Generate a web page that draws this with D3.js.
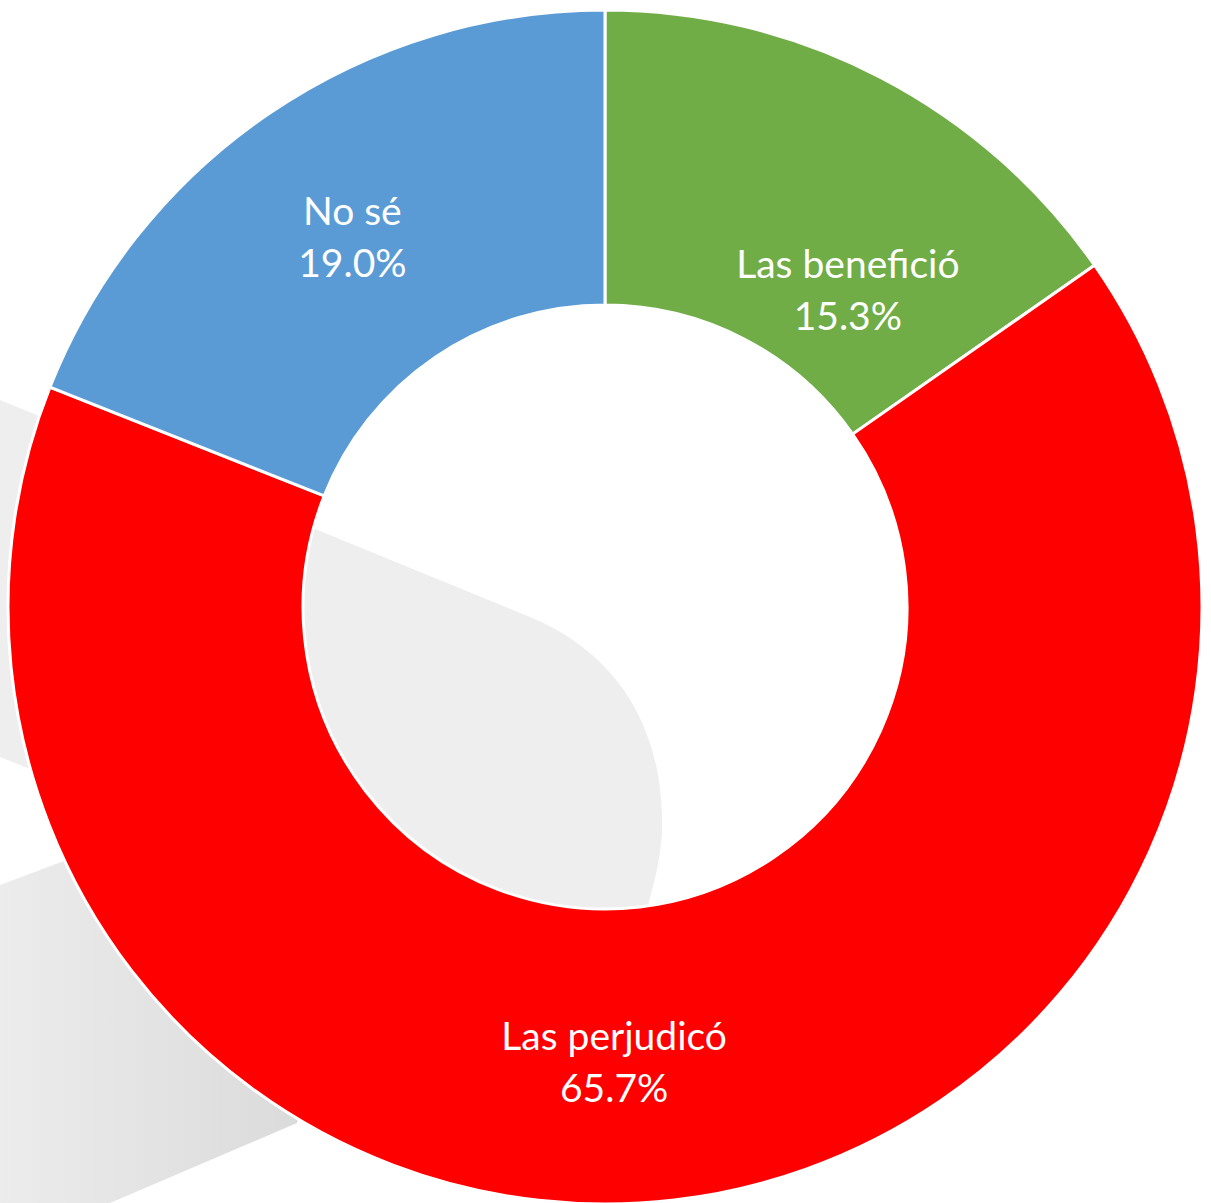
<!DOCTYPE html>
<html>
<head>
<meta charset="utf-8">
<script src="https://cdn.jsdelivr.net/npm/d3@7"></script>
<style>
  html, body { margin: 0; padding: 0; background: #fff; }
  svg { display: block; }
</style>
</head>
<body>
<div id="chart"></div>
<script>
// slices, clockwise from 12 o'clock
const categories = ['Las benefició', 'Las perjudicó', 'No sé'];
const values = [15.3, 65.7, 19.0];
const colors = ['#70AD47', '#FF0000', '#5B9BD5'];
// Excel nudges its labels a bit off the centroid
const labelNudge = [[35, 84], [-43, 11], [0, 4]];

const width = 1211;
const height = 1203;
const cx = 605;
const cy = 607;
const outerR = 597;
const innerR = 302;

const svg = d3.select('#chart')
  .append('svg')
  .attr('width', width)
  .attr('height', height);

// faint watermark behind the chart
const defs = svg.append('defs');
const grad = defs.append('linearGradient')
  .attr('id', 'wm')
  .attr('x1', '0%').attr('y1', '0%')
  .attr('x2', '100%').attr('y2', '0%');
grad.append('stop').attr('offset', '0%').attr('stop-color', '#ececec');
grad.append('stop').attr('offset', '100%').attr('stop-color', '#d9d9d9');

svg.append('path')
  .attr('d', 'M0,400 L530,617 C610,650 665,720 662,833 C660,860 655,880 648,905 L640,1010 L0,757 Z')
  .style('fill', '#eeeeee');

svg.append('path')
  .attr('d', 'M0,885 L200,810 L330,1000 L297,1123 L110,1203 L0,1203 Z')
  .style('fill', 'url(#wm)');

const pie = d3.pie()
  .sort(null)
  .value(d => d);

const arc = d3.arc()
  .innerRadius(innerR)
  .outerRadius(outerR);

const labelArc = d3.arc()
  .innerRadius((innerR + outerR) / 2)
  .outerRadius((innerR + outerR) / 2);

const g = svg.append('g')
  .attr('transform', `translate(${cx}, ${cy})`);

const arcs = pie(values);

g.selectAll('path.slice')
  .data(arcs)
  .enter().append('path')
  .attr('class', 'slice')
  .attr('d', arc)
  .style('fill', (d, i) => colors[i])
  .style('stroke', '#fff')
  .style('stroke-width', 3);

const labels = g.selectAll('text.lbl')
  .data(arcs)
  .enter().append('text')
  .attr('class', 'lbl')
  .attr('transform', (d, i) => {
    const [x, y] = labelArc.centroid(d);
    return `translate(${x + labelNudge[i][0]}, ${y + labelNudge[i][1]})`;
  })
  .style('font-family', 'Lato, "Open Sans", sans-serif')
  .style('font-size', '39px')
  .style('fill', '#fff')
  .attr('text-anchor', 'middle');

labels.append('tspan')
  .attr('x', 0)
  .attr('y', -14)
  .text((d, i) => categories[i]);

labels.append('tspan')
  .attr('x', 0)
  .attr('y', 38)
  .text(d => d.data.toFixed(1) + '%');
</script>
</body>
</html>
